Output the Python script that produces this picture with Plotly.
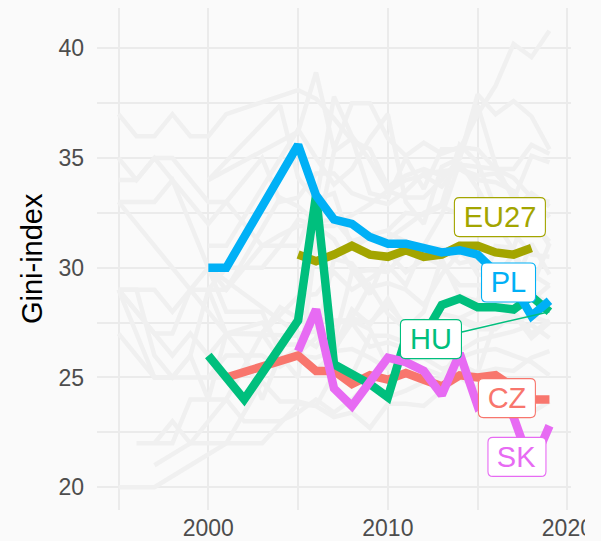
import plotly.graph_objects as go

years = list(range(1995, 2020))
N = None

# Background (grey) countries, 1995..2019, None = missing
BE = [29, 28, 27, 27, 29, 30, 28, N, 28, 26.1, 28.0, 27.8, 26.3, 27.5, 26.4, 26.6, 26.3, 26.5, 25.9, 25.9, 26.2, 26.3, 26.0, 25.7, 25.1]
BG = [N, N, N, N, N, 25, 26, 26, 24, 26, 25, 31.2, 35.3, 35.9, 33.4, 33.2, 35.0, 33.6, 35.4, 35.4, 37.0, 38.3, 40.2, 39.6, 40.8]
DK = [20, 20, 20, N, 21, N, 22, N, 24.8, 23.9, 23.9, 23.7, 25.2, 25.1, 26.9, 26.9, 26.6, 26.5, 26.8, 27.7, 27.4, 27.7, 27.6, 27.8, 27.5]
DE = [29, 27, 25, 25, 25, 25, 25, N, N, N, 26.1, 26.8, 30.4, 30.2, 29.1, 29.3, 29.0, 28.3, 29.7, 30.7, 30.1, 29.5, 29.1, 31.1, 29.7]
EE = [N, N, N, N, N, 34, N, N, N, 37.4, 34.1, 33.1, 33.4, 30.9, 31.4, 31.3, 31.9, 32.5, 32.9, 35.6, 34.8, 32.7, 31.6, 30.6, 30.5]
IE = [33, 33, 33, 34, 32, 30, 29, N, 31, 31.5, 31.9, 31.9, 31.3, 29.9, 28.8, 30.7, 29.8, 30.4, 30.7, 31.1, 29.7, 29.6, 30.6, 28.9, 28.3]
EL = [35, 34, 35, 35, 34, 33, 33, N, 35, 33, 33.2, 34.3, 34.3, 33.4, 33.1, 32.9, 33.5, 34.3, 34.4, 34.5, 34.2, 34.3, 33.4, 32.3, 31.0]
ES = [34, 34, 35, 34, 33, 32, 33, N, 31, 31, 32.2, 31.9, 31.9, 32.4, 32.9, 33.5, 34.0, 34.2, 33.7, 34.7, 34.6, 34.5, 34.1, 33.2, 33.0]
FR = [29, 29, 29, 28, 29, 28, 27, N, 27, 28.2, 27.7, 27.3, 26.6, 29.8, 29.9, 29.8, 30.8, 30.5, 30.1, 29.2, 29.2, 29.3, 28.8, 28.5, 29.2]
HR = [N, N, N, N, N, N, N, N, N, N, N, N, N, N, N, 31.6, 31.2, 30.9, 30.9, 30.2, 30.4, 29.8, 29.9, 29.7, 29.2]
IT = [33, 32, 31, 30, 29, 29, 29, N, N, 33.2, 32.8, 32.1, 32.2, 31.2, 31.5, 31.7, 32.5, 32.4, 32.8, 32.4, 32.4, 33.1, 32.7, 33.4, 32.8]
CY = [N, N, N, N, N, N, N, N, 27, N, 28.7, 28.8, 29.8, 29.0, 29.5, 30.1, 29.2, 31.0, 32.4, 34.8, 33.6, 32.1, 30.8, 29.1, 31.1]
LV = [N, N, N, N, N, 34, N, N, N, N, 36.2, 38.9, 35.4, 37.5, 37.5, 35.9, 35.1, 35.7, 35.2, 35.5, 35.4, 34.5, 34.5, 35.6, 35.2]
LT = [N, N, N, N, N, 31, 31, N, N, N, 36.3, 35.0, 33.8, 34.5, 35.9, 37.0, 33.0, 32.0, 34.6, 35.0, 37.9, 37.0, 37.6, 36.9, 35.4]
LU = [29, 28, 27, 26, 27, 26, 27, N, 27.5, 26.5, 26.5, 27.8, 27.4, 27.7, 29.2, 27.9, 27.2, 28.0, 30.4, 28.7, 28.5, 31.0, 30.9, 33.2, 32.3]
MT = [N, N, N, N, N, 30, N, N, N, N, 27.0, 27.1, 26.3, 28.1, 27.4, 28.6, 27.2, 27.1, 27.9, 27.7, 28.1, 28.5, 28.2, 28.7, 28.0]
NL = [29, 29, 26, 25, 26, 29, 27, N, N, N, 26.9, 26.4, 27.6, 27.6, 27.2, 25.5, 25.8, 25.4, 25.1, 26.2, 26.7, 26.9, 27.1, 27.4, 26.8]
AT = [27, 26, 25, 25, 26, 24, 24, N, 27, 25.8, 26.3, 25.3, 26.2, 27.7, 27.5, 28.3, 27.4, 27.6, 27.0, 27.6, 27.2, 27.2, 27.9, 26.8, 27.5]
PT = [37, 36, 36, 37, 36, 36, 37, N, N, 37.8, 38.1, 37.7, 36.8, 35.8, 35.4, 33.7, 34.2, 34.5, 34.2, 34.5, 34.0, 33.9, 33.5, 32.1, 31.2]
RO = [N, N, N, N, N, 29, 30, 30, 30, 31, 31, 33, 37.8, 36.0, 34.9, 33.5, 33.2, 33.2, 34.0, 35.0, 37.4, 34.7, 33.1, 35.1, 34.8]
SI = [N, N, 22, 23, 22, 22, 22, 22, 22, N, 23.8, 23.7, 23.2, 23.4, 22.7, 23.8, 23.8, 23.7, 24.4, 25.0, 24.5, 24.4, 23.7, 23.4, 23.9]
FI = [N, 22, 22, 22, 24, 24, 27, 26, 26, 25.5, 26.0, 25.9, 26.2, 26.3, 25.9, 25.4, 25.8, 25.9, 25.4, 25.6, 25.2, 25.4, 25.3, 25.9, 26.2]
SE = [N, N, 21, N, 22, N, 24, 23, 23, 23.0, 23.4, 24.0, 23.4, 24.0, 24.8, 24.1, 24.4, 24.8, 24.9, 25.4, 25.2, 27.6, 28.0, 27.0, 27.6]

# Highlighted series
CZ = [N, N, N, N, N, N, 25, N, N, N, 26.0, 25.3, 25.3, 24.7, 25.1, 24.9, 25.2, 24.9, 24.6, 25.1, 25.0, 25.1, 24.5, 24.0, 24.0]
EU27 = [N, N, N, N, N, N, N, N, N, N, 30.6, 30.3, 30.6, 31.0, 30.6, 30.5, 30.8, 30.5, 30.6, 31.0, 31.0, 30.7, 30.6, 30.9, N]
HU = [N, N, N, N, N, 26, N, 24, N, N, 27.6, 33.3, 25.6, 25.2, 24.7, 24.1, 26.8, 26.9, 28.3, 28.6, 28.2, 28.2, 28.1, 28.7, 28.0]
PL = [N, N, N, N, N, 30, 30, N, N, N, 35.6, 33.3, 32.2, 32.0, 31.4, 31.1, 31.1, 30.9, 30.7, 30.8, 30.6, 29.8, 29.2, 27.8, 28.5]
SK = [N, N, N, N, N, N, N, N, N, N, 26.2, 28.1, 24.5, 23.7, 24.8, 25.9, 25.7, 25.3, 24.2, 26.1, 23.7, 24.3, 23.2, 20.9, 22.8]

grey_series = [BE, BG, DK, DE, EE, IE, EL, ES, FR, HR, IT, CY, LV, LT, LU, MT, NL, AT, PT, RO, SI, FI, SE]
highlight_names = ["CZ", "EU27", "HU", "PL", "SK"]
highlight_series = [CZ, EU27, HU, PL, SK]
colors = ["#F8766D", "#A3A500", "#00BF7D", "#00B0F6", "#E76BF3"]

x_ticks = [2000, 2010, 2020]
y_ticks = [20, 25, 30, 35, 40]

BG_COL = "#FAFAFA"
GRID = "#EBEBEB"
FONT = "Liberation Sans, Arial, sans-serif"

fig = go.Figure()
for s in grey_series:
    fig.add_trace(go.Scatter(x=years, y=s, mode="lines", connectgaps=True,
                             line=dict(color="#F0F0F0", width=4.5),
                             hoverinfo="skip", showlegend=False))
for name, s, c in zip(highlight_names, highlight_series, colors):
    fig.add_trace(go.Scatter(x=years, y=s, mode="lines", connectgaps=True, name=name,
                             line=dict(color=c, width=8.5), showlegend=False))


def rounded_rect_path(w, h, r=5):
    hw, hh = w / 2.0, h / 2.0
    return (f"M {-hw + r},{-hh} L {hw - r},{-hh} Q {hw},{-hh} {hw},{-hh + r} "
            f"L {hw},{hh - r} Q {hw},{hh} {hw - r},{hh} L {-hw + r},{hh} "
            f"Q {-hw},{hh} {-hw},{hh - r} L {-hw},{-hh + r} Q {-hw},{-hh} {-hw + r},{-hh} Z")


# label placement (style), in data units; box width in px
label_pos = {
    "EU27": (2016.24, 32.31, 92),
    "PL": (2016.72, 29.33, 55),
    "HU": (2012.40, 26.75, 62),
    "CZ": (2016.63, 24.06, 58),
    "SK": (2017.19, 21.38, 59),
}
BOX_H = 40
for name, s, c in zip(highlight_names, highlight_series, colors):
    lx, ly, w = label_pos[name]
    # rounded label box
    fig.add_shape(type="path", xref="x", yref="y", xsizemode="pixel", ysizemode="pixel",
                  xanchor=lx, yanchor=ly, path=rounded_rect_path(w - 1, BOX_H - 1),
                  fillcolor="white", line=dict(color=c, width=1.1), layer="above")
    common = dict(text=name, font=dict(family=FONT, size=29, color=c),
                  bgcolor="rgba(0,0,0,0)", borderwidth=0, borderpad=0,
                  width=w, height=BOX_H)
    if name == "HU":
        last_year = max(y for y, v in zip(years, s) if v is not None)
        last_val = [v for v in s if v is not None][-1]
        fig.add_annotation(x=last_year, y=last_val, xref="x", yref="y",
                           ax=lx, ay=ly, axref="x", ayref="y",
                           showarrow=True, arrowhead=0, arrowwidth=1.5, arrowcolor=c,
                           standoff=0, **common)
    else:
        fig.add_annotation(x=lx, y=ly, xref="x", yref="y", showarrow=False,
                           xanchor="center", yanchor="middle", **common)

fig.add_annotation(text="Gini-index", textangle=-90, xref="paper", yref="paper",
                   x=-0.137, y=0.5, xanchor="center", yanchor="middle", showarrow=False,
                   font=dict(family=FONT, size=29, color="black"))

# mask to mimic clipped right edge of the last tick label
fig.add_shape(type="rect", xref="paper", yref="paper", x0=1.0295, x1=1.3, y0=-0.2, y1=0.0,
              fillcolor=BG_COL, line=dict(width=0), layer="above")

fig.update_layout(
    width=601, height=541,
    margin=dict(l=97, r=30, t=8, b=31, autoexpand=False),
    paper_bgcolor=BG_COL, plot_bgcolor=BG_COL,
    font=dict(family=FONT),
    showlegend=False,
    xaxis=dict(range=[1993.8, 2020.2], tickvals=x_ticks, ticktext=[str(v) for v in x_ticks],
               showgrid=True, gridcolor=GRID, gridwidth=2, zeroline=False, showline=False,
               ticks="", ticklen=0, ticklabelstandoff=2, automargin=False,
               tickfont=dict(family=FONT, size=23, color="#4D4D4D"),
               minor=dict(tickvals=[1995, 2005, 2015], showgrid=True, gridcolor=GRID, gridwidth=2)),
    yaxis=dict(range=[18.96, 41.84], tickvals=y_ticks, ticktext=[str(v) for v in y_ticks],
               showgrid=True, gridcolor=GRID, gridwidth=2, zeroline=False, showline=False,
               ticks="", ticklen=0, ticklabelstandoff=12, automargin=False,
               tickfont=dict(family=FONT, size=23, color="#4D4D4D"),
               minor=dict(tickvals=[22.5, 27.5, 32.5, 37.5], showgrid=True, gridcolor=GRID, gridwidth=2)),
)

fig.write_html("out.html", config={"displayModeBar": False},
               post_script="document.body.style.margin='0';document.body.style.background='#FAFAFA';")
